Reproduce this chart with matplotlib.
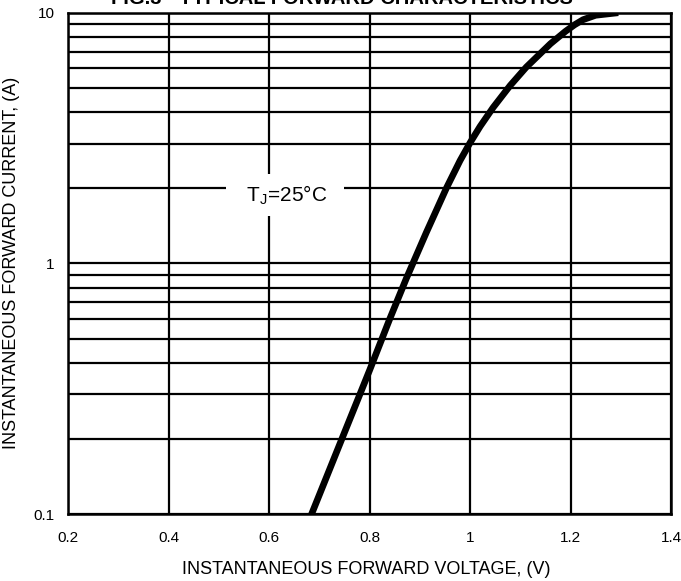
import matplotlib
matplotlib.use("Agg")
import matplotlib.pyplot as plt
from matplotlib.ticker import NullFormatter, LogLocator

plt.rcParams['font.family'] = ['Liberation Sans', 'DejaVu Sans']
plt.rcParams['mathtext.default'] = 'regular'

# curve (V, A)
volt = [0.68, 0.745, 0.80, 0.84, 0.873, 0.913, 0.953, 0.98, 1.0, 1.02, 1.046,
        1.08, 1.112, 1.16, 1.19, 1.208, 1.225, 1.25, 1.295]
amp = [0.095, 0.20, 0.375, 0.60, 0.87, 1.33, 2.0, 2.57, 3.03, 3.52, 4.19,
       5.13, 6.07, 7.52, 8.43, 8.95, 9.38, 9.77, 10.0]

xticks = [0.2, 0.4, 0.6, 0.8, 1.0, 1.2, 1.4]
xtick_labels = ['0.2', '0.4', '0.6', '0.8', '1', '1.2', '1.4']
yticks = [0.1, 1, 10]
ytick_labels = ['0.1', '1', '10']

title = 'FIG.3 - TYPICAL FORWARD CHARACTERISTICS'
xlabel = 'INSTANTANEOUS FORWARD VOLTAGE, (V)'
ylabel = 'INSTANTANEOUS FORWARD CURRENT, (A)'
note = r'  T$_{J}$=25°C  '

fig = plt.figure(figsize=(6.81, 5.81), dpi=100)
ax = fig.add_axes([0.1003, 0.1153, 0.885, 0.8628])

ax.set_yscale('log')
ax.set_xlim(0.2, 1.4)
ax.set_ylim(0.1, 10)

ax.set_xticks(xticks, labels=xtick_labels)
ax.set_yticks(yticks, labels=ytick_labels)
ax.yaxis.set_minor_locator(LogLocator(base=10, subs=[2, 3, 4, 5, 6, 7, 8, 9]))
ax.yaxis.set_minor_formatter(NullFormatter())
ax.tick_params(axis='both', which='both', length=0, labelsize=11)
ax.tick_params(axis='x', pad=12)
ax.tick_params(axis='y', pad=10)

ax.grid(which='major', axis='x', color='black', lw=1.6)
ax.grid(which='both', axis='y', color='black', lw=1.6)
ax.set_axisbelow(True)
for s in ax.spines.values():
    s.set_linewidth(1.8)

ax.plot(volt, amp, color='black', lw=4.8, solid_capstyle='butt',
        solid_joinstyle='round', zorder=3)

ax.text(0.631, 1.87, note, fontsize=15, ha='center', va='center', zorder=4,
        bbox=dict(boxstyle='square,pad=0.45', fc='white', ec='none'))

ax.set_xlabel(xlabel, fontsize=13, va='center')
ax.xaxis.set_label_coords(0.495, -0.11)
ax.set_ylabel(ylabel, fontsize=13, va='center')
ax.yaxis.set_label_coords(-0.095, 0.5)

fig.text(0.5015, 1 - 4 / 581, title, fontsize=14.5, fontweight='bold',
         ha='center', va='baseline')

fig.savefig('out.png', dpi=100)
